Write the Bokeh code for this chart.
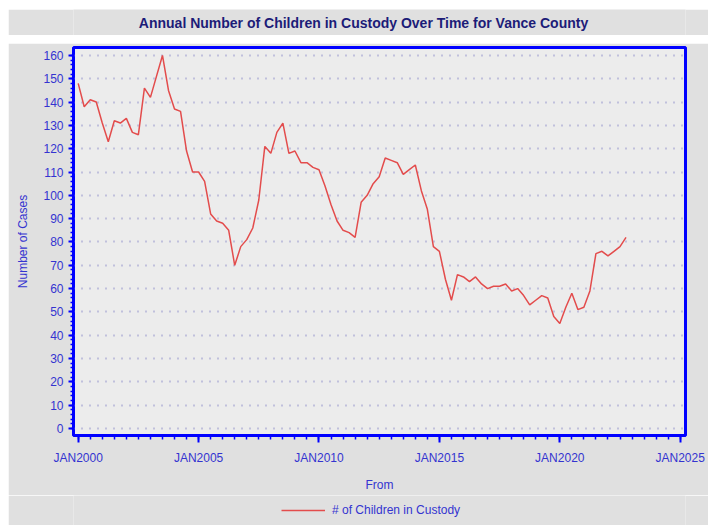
import numpy as np
from bokeh.plotting import figure
from bokeh.models import (Range1d, FixedTicker, Legend, LegendItem, Label,
                          ColumnDataSource, Spacer)
from bokeh.layouts import column, row
from bokeh.embed import file_html
from bokeh.resources import INLINE

# ---------------- data ----------------
title_text = "Annual Number of Children in Custody Over Time for Vance County"
y_axis_title = "Number of Cases"
x_axis_title = "From"
series_name = "# of Children in Custody"

start_year = 2000  # first quarter: JAN2000, one value per quarter
children_in_custody = [
    148, 138, 141, 140, 131, 123, 132, 131, 133, 127, 126, 146, 142, 151, 160, 145,
    137, 136, 119, 110, 110, 106, 92, 89, 88, 85, 70, 78, 81, 86, 98, 121,
    118, 127, 131, 118, 119, 114, 114, 112, 111, 104, 96, 89, 85, 84, 82, 97,
    100, 105, 108, 116, 115, 114, 109, 111, 113, 102, 94, 78, 76, 64, 55, 66,
    65, 63, 65, 62, 60, 61, 61, 62, 59, 60, 57, 53, 55, 57, 56, 48,
    45, 52, 58, 51, 52, 59, 75, 76, 74, 76, 78, 82,
]
x_tick_years = [2000, 2005, 2010, 2015, 2020, 2025]
x_tick_labels = ["JAN2000", "JAN2005", "JAN2010", "JAN2015", "JAN2020", "JAN2025"]
y_ticks = list(range(0, 161, 10))

quarter_x = start_year + np.arange(len(children_in_custody)) / 4.0
source = ColumnDataSource(dict(x=quarter_x, y=children_in_custody))

# ---------------- styles ----------------
FONT = "Liberation Sans"
BLUE = "#0000ff"
TEXT_BLUE = "#3434d0"
TITLE_COLOR = "#1c1c78"
OUTER_BG = "#e0e0e0"
PLOT_BG = "#ececec"
LINE_COLOR = "#e34c4c"
GRID_COLOR = "#9595cc"
W = 700
LEFT, RIGHT = 65, 23


def band(height):
    f = figure(width=W, height=height, output_backend="svg",
               toolbar_location=None, x_range=Range1d(0, 1),
               y_range=Range1d(0, 1), x_axis_type=None, y_axis_type=None,
               min_border_left=LEFT, min_border_right=RIGHT,
               min_border_top=0, min_border_bottom=0)
    f.grid.visible = False
    f.outline_line_color = None
    f.background_fill_color = OUTER_BG
    f.border_fill_color = OUTER_BG
    return f


# ---------------- title band ----------------
tf = band(26)
tf.add_layout(Label(x=0.5, y=0.5, x_offset=-16, text=title_text,
                    text_align="center", text_baseline="middle",
                    text_font=FONT, text_font_size="14px",
                    text_font_style="bold", text_color=TITLE_COLOR))

# ---------------- main plot ----------------
p = figure(width=W, height=452, output_backend="svg", toolbar_location=None,
           x_range=Range1d(1999.805, 2025.22), y_range=Range1d(-3.0, 163.4),
           min_border_left=LEFT, min_border_right=RIGHT, min_border_top=4,
           min_border_bottom=60)
p.background_fill_color = PLOT_BG
p.border_fill_color = OUTER_BG
p.outline_line_color = BLUE
p.outline_line_width = 3

p.line("x", "y", source=source, line_color=LINE_COLOR, line_width=1.5)

# x axis
minor_x = list(np.arange(x_tick_years[0], x_tick_years[-1] + 0.001, 0.5))
p.xaxis.ticker = FixedTicker(ticks=x_tick_years, minor_ticks=minor_x)
p.xaxis.major_label_overrides = {yr: lab for yr, lab in zip(x_tick_years, x_tick_labels)}
p.xaxis.axis_label = x_axis_title
p.xaxis.axis_label_standoff = 10
p.xaxis.major_label_standoff = 8
p.xaxis.major_tick_out = 7
p.xaxis.major_tick_in = 0
p.xaxis.minor_tick_out = 4
p.xaxis.minor_tick_in = 0

# y axis
minor_y = list(range(0, 161, 2))
p.yaxis.ticker = FixedTicker(ticks=y_ticks, minor_ticks=minor_y)
p.yaxis.axis_label = y_axis_title
p.yaxis.axis_label_standoff = 10
p.yaxis.major_label_standoff = 5
p.yaxis.major_tick_out = 5
p.yaxis.major_tick_in = 0
p.yaxis.minor_tick_out = 3
p.yaxis.minor_tick_in = 0
p.yaxis.major_label_orientation = "horizontal"

for ax in (p.xaxis, p.yaxis):
    ax.axis_line_color = BLUE
    ax.axis_line_width = 2
    ax.major_tick_line_color = BLUE
    ax.major_tick_line_width = 2
    ax.minor_tick_line_color = BLUE
    ax.minor_tick_line_width = 1.5
    ax.major_label_text_font = FONT
    ax.major_label_text_font_size = "12px"
    ax.major_label_text_color = TEXT_BLUE
    ax.axis_label_text_font = FONT
    ax.axis_label_text_font_size = "12px"
    ax.axis_label_text_font_style = "normal"
    ax.axis_label_text_color = TEXT_BLUE

# grid
p.xgrid.visible = False
p.ygrid.grid_line_color = GRID_COLOR
p.ygrid.grid_line_dash = "1 7"
p.ygrid.grid_line_width = 2

# ---------------- legend band (below the chart) ----------------
# same series drawn into the legend band; its x range (0..1) keeps the
# line itself out of view so only the legend key shows.
lf = band(30)
key = lf.line("x", "y", source=source, line_color=LINE_COLOR, line_width=1.5)
legend = Legend(items=[LegendItem(label=series_name, renderers=[key])],
                location=(208, 8), orientation="horizontal",
                padding=0, margin=0, border_line_color=None,
                background_fill_alpha=0, glyph_width=44, glyph_height=14,
                label_standoff=7, label_height=14,
                label_text_font=FONT, label_text_font_size="12px",
                label_text_color=TEXT_BLUE)
lf.add_layout(legend)

layout = row(Spacer(width=8, height=525),
             column(Spacer(width=W, height=9), tf,
                    Spacer(width=W, height=8), p, lf))

open("out.html", "w").write(file_html(layout, INLINE))
